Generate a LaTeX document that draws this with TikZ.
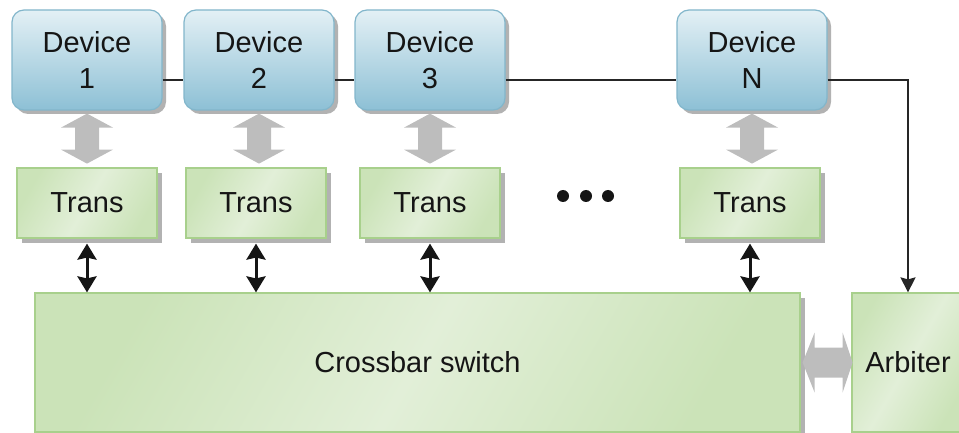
\documentclass[tikz,border=0pt]{standalone}
\usepackage{fontspec}
\setmainfont{Liberation Sans}
\usetikzlibrary{shadows,arrows.meta}
\definecolor{devtop}{HTML}{E3F0F5}
\definecolor{devbot}{HTML}{8DC0D5}
\definecolor{devline}{HTML}{82B6CB}
\definecolor{grnline}{HTML}{A8D08C}
\definecolor{grnA}{HTML}{CBE3B8}
\definecolor{grnB}{HTML}{E2EFD8}
\definecolor{arrgray}{HTML}{BDBDBD}
\definecolor{txt}{HTML}{151515}
\begin{document}
\begin{tikzpicture}[x=1pt,y=-1pt,
  every node/.style={font=\fontsize{29}{36}\selectfont, text=txt},
  device/.style={draw=devline, line width=1.2pt, rounded corners=12pt,
    top color=devtop, bottom color=devbot, minimum width=150pt, minimum height=100pt,
    align=center, inner sep=0pt,
    drop shadow={shadow xshift=4pt, shadow yshift=-4pt, fill=black!30, opacity=1}},
  gbox/.style={draw=grnline, line width=1.2pt, shading=axis, left color=grnA,
    right color=grnA, middle color=grnB, shading angle=60, inner sep=0pt,
    drop shadow={shadow xshift=5pt, shadow yshift=-5pt, fill=black!30, opacity=1}},
  trans/.style={gbox, minimum width=140pt, minimum height=70pt},
  bus/.style={line width=2pt, draw=black!85},
  fat/.style={fill=arrgray},
  sharp/.tip={Stealth[length=16pt 0,width=19pt 0,inset=2pt]},
  small/.style={line width=3pt, draw=txt, sharp-sharp},
]
\clip (0,0) rectangle (959,433);
\useasboundingbox (0,0) rectangle (959,433);

\node[device] (D1) at (87,60) {Device\\1};
\node[device] (D2) at (259,60) {Device\\2};
\node[device] (D3) at (430,60) {Device\\3};
\node[device] (DN) at (752,60) {Device\\N};

\node[trans] (T1) at (87,203) {Trans};
\node[trans] (T2) at (256,203) {Trans};
\node[trans] (T3) at (430,203) {Trans};
\node[trans] (TN) at (750,203) {Trans};

\node[gbox, minimum width=765pt, minimum height=139pt] (CB) at (417.5,362.5) {Crossbar switch};
\node[gbox, minimum width=112pt, minimum height=139pt] (AR) at (908,362.5) {Arbiter};

\fill[txt] (563,196) circle (6pt) (586,196) circle (6pt) (608,196) circle (6pt);

\draw[bus] ([yshift=-20pt]D1.east) -- ([yshift=-20pt]D2.west);
\draw[bus] ([yshift=-20pt]D2.east) -- ([yshift=-20pt]D3.west);
\draw[bus] ([yshift=-20pt]D3.east) -- ([yshift=-20pt]DN.west);
\draw[bus, -{Stealth[length=15pt 0,width=15pt 0,inset=2pt]}] ([yshift=-20pt]DN.east) -| (AR.north);

\foreach \n in {D1,D2,D3,DN}{
  \fill[fat] ([yshift=-3pt]\n.south) -- ++(26,14) -- ++(-14,0) -- ++(0,22) -- ++(14,0)
    -- ++(-26,14) -- ++(-26,-14) -- ++(14,0) -- ++(0,-22) -- ++(-14,0) -- cycle;
}
\foreach \n in {T1,T2,T3,TN}{
  \draw[small] ([yshift=-5pt]\n.south) -- (\n.south |- CB.north);
}
\fill[fat] ([xshift=2pt]CB.east) -- ++(12,-30) -- ++(0,15) -- ++(28,0) -- ++(0,-15)
  -- ++(10,30) -- ++(-10,30) -- ++(0,-15) -- ++(-28,0) -- ++(0,15) -- cycle;
\end{tikzpicture}
\end{document}
